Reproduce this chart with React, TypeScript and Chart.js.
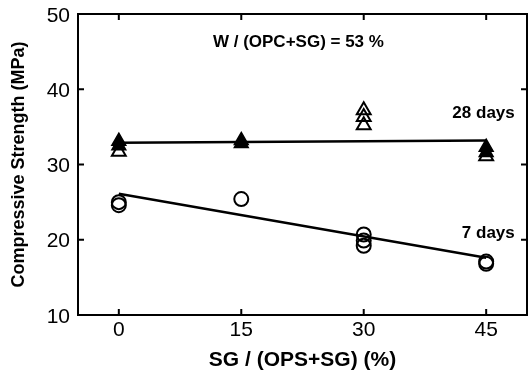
import React, { useEffect, useRef } from "react";
import { Chart, registerables } from "chart.js";

Chart.register(...registerables);

const xTicks = [0, 15, 30, 45];
const yTicks = [10, 20, 30, 40, 50];

// 28 days, filled triangles
const d28FilledX = [0, 0, 15, 15, 45, 45];
const d28FilledY = [33.1, 32.5, 33.2, 32.8, 32.3, 31.6];
// 28 days, open triangles
const d28OpenX = [0, 30, 30, 30, 45];
const d28OpenY = [31.7, 37.2, 36.3, 35.2, 31.1];
// 7 days, open circles
const d7X = [0, 0, 15, 30, 30, 30, 45, 45];
const d7Y = [25.0, 24.6, 25.4, 20.7, 19.9, 19.2, 17.1, 16.8];
// regression lines (endpoints)
const fit28X = [0, 45];
const fit28Y = [32.9, 33.2];
const fit7X = [0, 45];
const fit7Y = [26.1, 17.6];

const annoTitle = "W / (OPC+SG) = 53 %";
const label28 = "28 days";
const label7 = "7 days";

const FONT = "'Liberation Sans', Arial, sans-serif";
const TICK_SIZE = 21;

const pts = (xs: number[], ys: number[]) => xs.map((x, i) => ({ x, y: ys[i] }));

const framePlugin = {
  id: "frame",
  afterDraw(chart: any) {
    const { ctx, chartArea: a, scales } = chart;
    const xs = scales.x;
    const ys = scales.y;
    ctx.save();
    ctx.strokeStyle = "#000";
    ctx.lineWidth = 2;
    ctx.strokeRect(a.left, a.top, a.right - a.left, a.bottom - a.top);
    ctx.beginPath();
    yTicks.forEach((v) => {
      const py = ys.getPixelForValue(v);
      ctx.moveTo(a.left, py);
      ctx.lineTo(a.left + 6, py);
      ctx.moveTo(a.right, py);
      ctx.lineTo(a.right - 6, py);
    });
    xTicks.forEach((v) => {
      const px = xs.getPixelForValue(v);
      ctx.moveTo(px, a.bottom);
      ctx.lineTo(px, a.bottom - 6);
      ctx.moveTo(px, a.top);
      ctx.lineTo(px, a.top + 6);
    });
    ctx.stroke();

    ctx.fillStyle = "#000";
    // tick labels
    ctx.font = `${TICK_SIZE}px ${FONT}`;
    ctx.textBaseline = "alphabetic";
    ctx.textAlign = "right";
    yTicks.forEach((v) => {
      ctx.fillText(String(v), a.left - 8, ys.getPixelForValue(v) + TICK_SIZE * 0.36);
    });
    ctx.textAlign = "center";
    xTicks.forEach((v) => {
      ctx.fillText(String(v), xs.getPixelForValue(v), a.bottom + 21);
    });

    // annotations
    ctx.font = `bold 17px ${FONT}`;
    ctx.textBaseline = "middle";
    ctx.textAlign = "center";
    ctx.fillText(annoTitle, xs.getPixelForValue(22), ys.getPixelForValue(46.3));
    ctx.textAlign = "right";
    ctx.fillText(label28, xs.getPixelForValue(48.5), ys.getPixelForValue(36.8));
    ctx.fillText(label7, xs.getPixelForValue(48.5), ys.getPixelForValue(20.9));
    ctx.restore();
  },
};

export default function App() {
  const ref = useRef<HTMLCanvasElement>(null);
  useEffect(() => {
    if (!ref.current) return;
    const chart = new Chart(ref.current, {
      type: "scatter",
      data: {
        datasets: [
          {
            label: "fit28",
            data: pts(fit28X, fit28Y),
            showLine: true,
            borderColor: "#000",
            borderWidth: 2.5,
            pointRadius: 0,
            order: 5,
          },
          {
            label: "fit7",
            data: pts(fit7X, fit7Y),
            showLine: true,
            borderColor: "#000",
            borderWidth: 2.5,
            pointRadius: 0,
            order: 4,
          },
          {
            label: "28 filled",
            data: pts(d28FilledX, d28FilledY),
            pointStyle: "triangle",
            pointRadius: 8,
            backgroundColor: "#000",
            borderColor: "#000",
            borderWidth: 1.5,
            order: 2,
          },
          {
            label: "28 open",
            data: pts(d28OpenX, d28OpenY),
            pointStyle: "triangle",
            pointRadius: 8,
            backgroundColor: "rgba(255,255,255,0)",
            borderColor: "#000",
            borderWidth: 2,
            order: 1,
          },
          {
            label: "7",
            data: pts(d7X, d7Y),
            pointStyle: "circle",
            pointRadius: 7,
            backgroundColor: "rgba(255,255,255,0)",
            borderColor: "#000",
            borderWidth: 2,
            order: 1,
          },
        ],
      },
      options: {
        responsive: false,
        animation: false,
        layout: { autoPadding: false, padding: { top: 14, right: 1, left: 0, bottom: 0 } },
        plugins: { legend: { display: false }, tooltip: { enabled: false } },
        scales: {
          x: {
            type: "linear",
            min: -5,
            max: 50,
            afterBuildTicks: (s: any) => {
              s.ticks = xTicks.map((v) => ({ value: v }));
            },
            afterFit: (s: any) => {
              s.height = 64;
            },
            grid: { display: false, drawTicks: false },
            border: { display: false },
            ticks: { display: false },
            title: {
              display: true,
              text: "SG / (OPS+SG) (%)",
              color: "#000",
              font: { family: FONT, size: 21, weight: "bold" },
              padding: { top: 0, bottom: 6 },
            },
          },
          y: {
            type: "linear",
            min: 10,
            max: 50,
            afterBuildTicks: (s: any) => {
              s.ticks = yTicks.map((v) => ({ value: v }));
            },
            afterFit: (s: any) => {
              s.width = 78;
            },
            grid: { display: false, drawTicks: false },
            border: { display: false },
            ticks: { display: false },
            title: {
              display: true,
              text: "Compressive Strength (MPa)",
              color: "#000",
              font: { family: FONT, size: 18, weight: "bold" },
              padding: { top: 8, bottom: 0 },
            },
          },
        },
      },
      plugins: [framePlugin],
    });
    return () => chart.destroy();
  }, []);
  return (
    <div style={{ position: "fixed", left: 0, top: 0, width: 528, height: 379, background: "#fff" }}>
      <canvas ref={ref} width={528} height={379} style={{ display: "block" }} />
    </div>
  );
}
